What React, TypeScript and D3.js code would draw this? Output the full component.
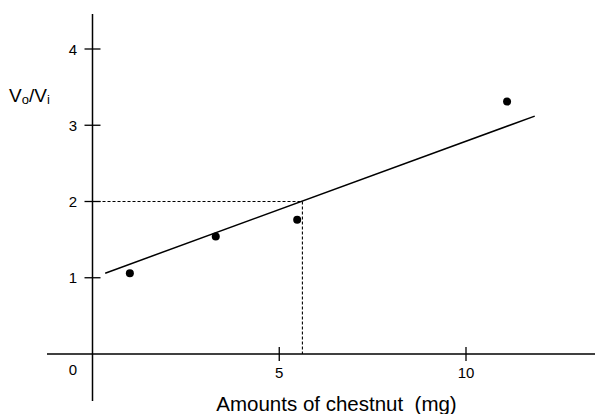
import React from 'react';
import * as d3 from 'd3';

// measured points: amount of chestnut (mg) vs Vo/Vi
const amounts = [1.0, 3.3, 5.48, 11.1];
const ratios = [1.06, 1.54, 1.76, 3.31];

// fitted line endpoints
const fitX = [0.34, 11.84];
const fitY = [1.06, 3.12];

// read-off at Vo/Vi = 2
const readX = 5.62;
const readY = 2;

const yTicks = [1, 2, 3, 4];
const xTicks = [5, 10];

const W = 595;
const H = 414;

export default function App() {
  const x = d3.scaleLinear().domain([0, 10]).range([92.5, 466]);
  const y = d3.scaleLinear().domain([0, 4]).range([354, 49]);

  const fitLine = d3.line<number>()
    .x(d => x(d))
    .y((d, i) => y(fitY[i]));

  const font = "'Liberation Sans', Arial, Helvetica, sans-serif";

  return (
    <svg width={W} height={H} style={{ position: 'absolute', left: 0, top: 0, background: '#fff' }}
         fontFamily={font}>
      {/* axes */}
      <line x1={x(0)} x2={x(0)} y1={14} y2={401} stroke="#000" strokeWidth={1.5} />
      <line x1={47} x2={W} y1={y(0)} y2={y(0)} stroke="#000" strokeWidth={1.5} />

      {yTicks.map(t => (
        <g key={'y' + t}>
          <line x1={x(0) - 8} x2={x(0) + 8} y1={y(t)} y2={y(t)} stroke="#000" strokeWidth={1.3} />
          <text x={77} y={y(t) + 5.5} textAnchor="end" fontSize={15}>{t}</text>
        </g>
      ))}
      {xTicks.map(t => (
        <g key={'x' + t}>
          <line x1={x(t)} x2={x(t)} y1={y(0) - 7} y2={y(0) + 7} stroke="#000" strokeWidth={1.3} />
          <text x={x(t)} y={378} textAnchor="middle" fontSize={15}>{t}</text>
        </g>
      ))}
      <text x={73} y={375} textAnchor="middle" fontSize={15}>0</text>

      {/* dashed read-off */}
      <path d={`M${x(0)},${y(readY)}H${x(readX)}V${y(0)}`} fill="none" stroke="#000"
            strokeWidth={1.1} strokeDasharray="3,2" />

      {/* fit */}
      <path d={fitLine(fitX) || ''} fill="none" stroke="#000" strokeWidth={1.5} />

      {amounts.map((a, i) => (
        <circle key={i} cx={x(a)} cy={y(ratios[i])} r={4} fill="#000" />
      ))}

      <text x={9} y={102} fontSize={19}>
        V<tspan fontSize={13} dy={2}>o</tspan><tspan dy={-2}>/V</tspan><tspan fontSize={13} dy={2}>i</tspan>
      </text>
      <text x={336.5} y={411} textAnchor="middle" fontSize={20.5} style={{ whiteSpace: 'pre' }}>
        Amounts of chestnut  (mg)
      </text>
    </svg>
  );
}
